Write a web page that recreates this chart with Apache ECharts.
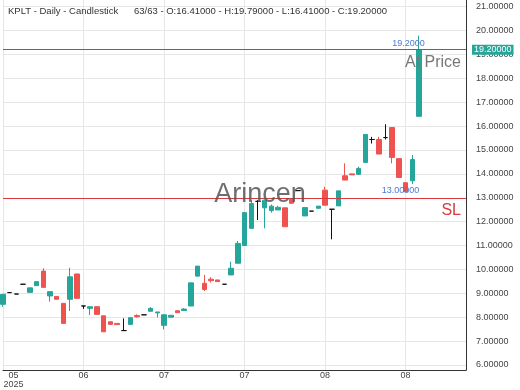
<!DOCTYPE html>
<html><head><meta charset="utf-8">
<script src="https://cdn.jsdelivr.net/npm/echarts@6/dist/echarts.min.js"></script>
<style>html,body{margin:0;padding:0;background:#fff}#c{width:520px;height:390px}</style>
</head><body><div id="c"></div>
<script>
const symbol = 'KPLT';
const opens  = [8.54,9.03,8.97,9.38,9.04,9.32,9.93,8.89,8.87,8.58,8.75,9.81,8.47,8.37,8.44,8.06,7.81,7.74,7.44,7.70,8.07,8.10,8.25,8.18,7.66,8.00,8.27,8.28,8.47,9.72,9.42,9.59,9.56,9.38,9.77,10.26,11.00,11.72,12.85,12.58,12.46,12.49,12.58,12.93,13.30,12.24,12.44,12.56,13.32,12.52,12.66,13.92,14.00,13.98,14.48,15.44,15.44,15.52,15.94,14.64,13.63,13.71,16.41];
const closes = [8.96,9.03,8.97,9.38,9.23,9.49,9.25,9.07,8.75,7.74,9.69,8.79,8.47,8.44,8.12,7.39,7.70,7.69,7.44,7.98,8.02,8.10,8.37,8.22,8.10,8.08,8.19,8.34,9.44,10.14,9.16,9.53,9.49,9.38,10.05,11.09,12.38,12.76,12.85,12.90,12.65,12.60,11.79,12.77,13.30,12.59,12.44,12.65,12.69,12.52,13.29,13.74,13.96,14.23,15.65,15.44,14.83,15.52,14.69,13.85,13.25,14.60,19.20];
const lows   = [8.44,9.03,8.97,9.38,9.04,9.32,9.25,8.65,8.75,7.74,8.26,8.79,8.35,8.09,8.12,7.39,7.70,7.69,7.44,7.70,7.98,8.10,8.25,7.99,7.49,8.00,8.19,8.26,8.47,9.72,9.10,9.45,9.49,9.38,9.77,10.26,11.00,11.72,12.07,11.72,12.38,12.49,11.79,12.77,13.30,12.24,12.44,12.56,12.69,11.26,12.66,13.74,13.96,13.98,14.48,15.27,14.83,15.44,14.44,13.85,13.25,13.58,16.41];
const highs  = [8.98,9.03,8.97,9.38,9.23,9.49,10.05,9.07,8.87,8.58,10.07,9.81,8.47,8.44,8.44,8.06,7.81,7.74,7.95,7.98,8.12,8.10,8.42,8.22,8.12,8.08,8.27,8.38,9.44,10.14,9.77,9.68,9.56,9.38,10.32,11.19,12.38,12.90,12.90,12.92,12.72,12.66,12.58,12.93,13.30,12.59,12.44,12.65,13.46,12.52,13.29,14.44,14.00,14.30,15.65,15.55,15.55,16.08,15.94,14.64,13.63,14.79,19.79];
const tickLabels = ['05','06','07','07','08','08'];
const yearLabel = '2025';
const yTicks = [6,7,8,9,10,11,12,13,14,15,16,17,18,19,20,21];
const slotCount = 70;
const tickEvery = 12;
const yMin = 5.79, yMax = 21.28;
const atPrice = 19.2, slPrice = 13.0;

const UP = '#26a69a', DOWN = '#ef5350', FONT = 'Liberation Sans, Arial, sans-serif';
const categories = Array.from({length: slotCount}, (_, i) => String(i));
const n = opens.length;
const candleData = opens.map((o, i) => {
  const item = {value: [o, closes[i], lows[i], highs[i]]};
  if (o === closes[i]) item.itemStyle = {color: '#111', color0: '#111', borderColor: '#111', borderColor0: '#111'};
  return item;
});
const last = n - 1;
const titleText = symbol + ' - Daily - Candlestick      ' + n + '/' + n +
  ' - O:' + opens[last].toFixed(5) + ' - H:' + highs[last].toFixed(5) +
  ' - L:' + lows[last].toFixed(5) + ' - C:' + closes[last].toFixed(5);

const chart = echarts.init(document.getElementById('c'), null, {renderer: 'canvas'});
chart.setOption({
  animation: false,
  backgroundColor: '#fff',
  textStyle: {fontFamily: FONT},
  title: {text: titleText, left: 3, top: 1, textStyle: {fontSize: 9.5, fontWeight: 'normal', color: '#333', fontFamily: FONT}},
  grid: {left: 3, right: 54, top: 0, bottom: 20, containLabel: false},
  xAxis: {
    type: 'category', data: categories, boundaryGap: false,
    axisLine: {show: true, lineStyle: {color: '#333', width: 1}},
    axisTick: {show: false},
    axisLabel: {
      interval: tickEvery - 1, margin: 1, fontSize: 9, lineHeight: 9, color: '#444', fontFamily: FONT,
      alignMinLabel: 'left',
      formatter: (v, idx) => {
        if (idx === 0) return '{a|' + tickLabels[0] + '}\n{a|' + yearLabel + '}';
        const k = idx / tickEvery;
        return tickLabels[k] !== undefined ? tickLabels[k] : '';
      },
      rich: {a: {width: 21, align: 'center', fontSize: 9, lineHeight: 9, color: '#444', fontFamily: FONT}}
    },
    splitLine: {show: true, interval: tickEvery - 1, lineStyle: {color: '#e6e6e6', width: 1}}
  },
  yAxis: {
    type: 'value', position: 'right', min: yMin, max: yMax,
    axisLine: {show: true, lineStyle: {color: '#333', width: 1}},
    axisTick: {show: false, customValues: yTicks},
    axisLabel: {customValues: yTicks, formatter: v => v.toFixed(5), fontSize: 9, color: '#444', margin: 10, fontFamily: FONT},
    splitLine: {show: true, lineStyle: {color: '#e6e6e6', width: 1}}
  },
  series: [{
    type: 'candlestick', data: candleData, barWidth: 5, clip: false,
    itemStyle: {color: UP, color0: DOWN, borderColor: UP, borderColor0: DOWN, borderColorDoji: '#111', borderWidth: 1},
    markLine: {
      symbol: 'none', silent: true, animation: false,
      data: [
        {yAxis: atPrice, lineStyle: {color: '#666', width: 1, type: 'solid'},
         label: {show: true, position: 'insideEndBottom', formatter: 'At Price', color: '#777', fontSize: 16, fontFamily: FONT, distance: 5}},
        {yAxis: atPrice, lineStyle: {color: 'rgba(0,0,0,0)', width: 1, type: 'solid'},
         label: {show: true, position: 'end', formatter: atPrice.toFixed(5), color: '#fff', backgroundColor: UP, fontSize: 9, lineHeight: 9, padding: [1, 2, 0, 2], distance: 6, fontFamily: FONT}},
        {yAxis: slPrice, lineStyle: {color: '#d9393f', width: 1, type: 'solid'},
         label: {show: true, position: 'insideEndBottom', formatter: 'SL', color: '#d9393f', fontSize: 16, fontFamily: FONT, distance: 5}}
      ]
    },
    markPoint: {
      symbol: 'circle', symbolSize: 0, silent: true, animation: false,
      data: [
        {coord: [60, atPrice], label: {show: true, position: 'top', distance: 2, offset: [3, 0], formatter: atPrice.toFixed(4), color: '#4a7bd4', fontSize: 9, fontFamily: FONT}},
        {coord: [59, slPrice], label: {show: true, position: 'top', distance: 3, offset: [1.5, 0], formatter: slPrice.toFixed(5), color: '#4a7bd4', fontSize: 9, fontFamily: FONT}}
      ]
    }
  }],
  graphic: [{
    type: 'text', left: 'center', top: 'middle', z: 100, silent: true,
    style: {text: 'Arincen', fontSize: 27, fontFamily: FONT, fill: 'rgba(85,85,85,0.85)'}
  }]
});
</script></body></html>
